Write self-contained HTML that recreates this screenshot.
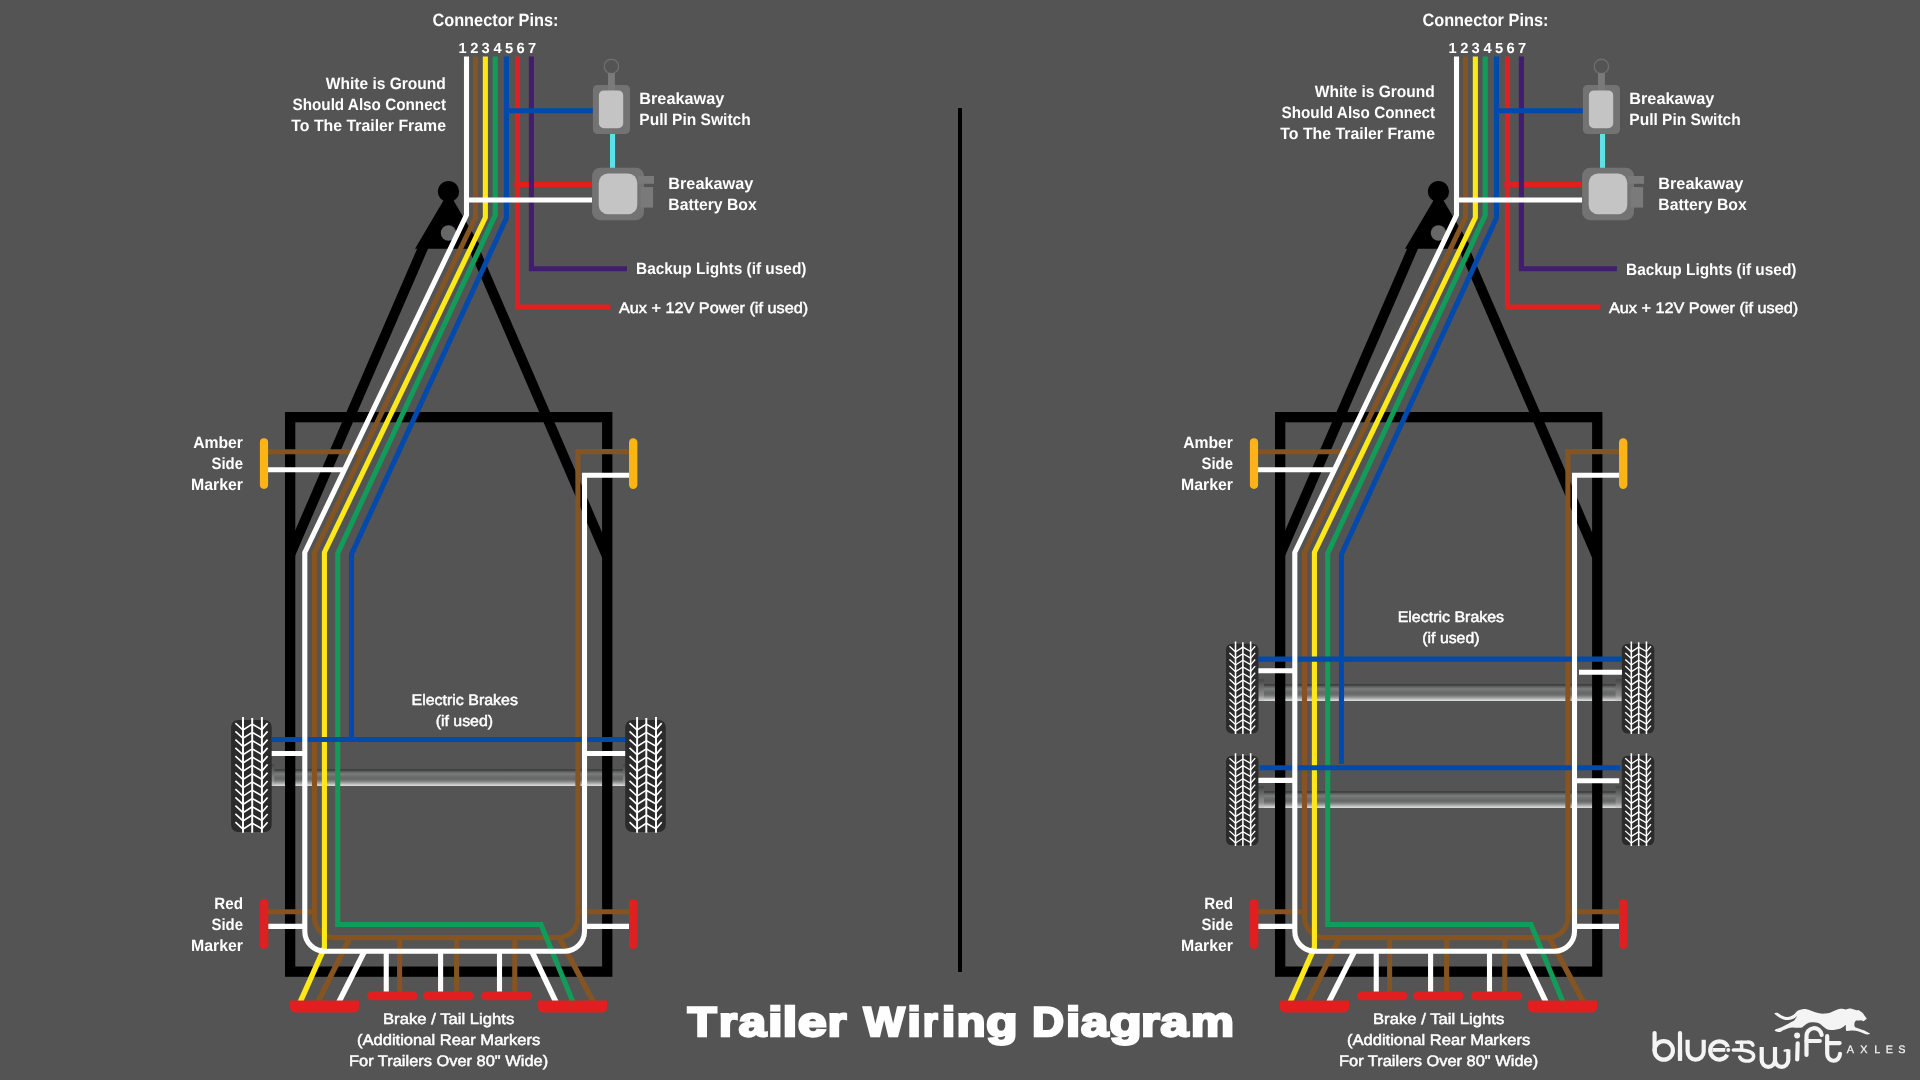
<!DOCTYPE html>
<html>
<head>
<meta charset="utf-8">
<title>Trailer Wiring Diagram</title>
<style>
html,body{margin:0;padding:0;background:#545454;}
body{width:1920px;height:1080px;overflow:hidden;}
svg{display:block;}
text{font-family:"Liberation Sans",sans-serif;fill:#ffffff;text-rendering:geometricPrecision;}
.b{font-weight:bold;}
.sb{font-weight:normal;stroke:#fff;stroke-width:0.5;}
.w{fill:none;stroke-width:5.1;stroke-linecap:butt;stroke-linejoin:miter;}
.white{stroke:#ffffff;}
.brown{stroke:#845422;}
.yellow{stroke:#ffe818;}
.green{stroke:#129c59;}
.blue{stroke:#004aad;}
.red{stroke:#e02020;}
.purple{stroke:#411c70;}
.cyan{stroke:#5ce1e6;}
.blk{fill:none;stroke:#000;}
</style>
</head>
<body>
<svg width="1920" height="1080" viewBox="0 0 1920 1080">
<defs>
  <linearGradient id="axg" x1="0" y1="0" x2="0" y2="1">
    <stop offset="0" stop-color="#3e4141"/>
    <stop offset="0.08" stop-color="#404343"/>
    <stop offset="0.13" stop-color="#585a59"/>
    <stop offset="0.22" stop-color="#6c6e6d"/>
    <stop offset="0.29" stop-color="#7c7e7d"/>
    <stop offset="0.40" stop-color="#6f7170"/>
    <stop offset="0.55" stop-color="#656867"/>
    <stop offset="0.66" stop-color="#6f7271"/>
    <stop offset="0.80" stop-color="#9a9b9b"/>
    <stop offset="0.92" stop-color="#c9c9c9"/>
    <stop offset="1" stop-color="#dedede"/>
  </linearGradient>
  <linearGradient id="capg" x1="0" y1="0" x2="0" y2="1">
    <stop offset="0" stop-color="#434646"/>
    <stop offset="0.2" stop-color="#575959"/>
    <stop offset="0.5" stop-color="#777979"/>
    <stop offset="0.75" stop-color="#8c8d8d"/>
    <stop offset="1" stop-color="#d2d2d2"/>
  </linearGradient>
  <!-- axle: origin at left end, top of tube; use with width via scale not needed: two variants -->
  <g id="axleL">
    <rect x="268" y="769" width="362" height="17" fill="url(#axg)"/>
    <rect x="268" y="764.4" width="6.3" height="21.6" fill="url(#capg)"/>
    <rect x="622.9" y="764.4" width="6.3" height="21.6" fill="url(#capg)"/>
  </g>
  <g id="axleR">
    <rect x="268" y="0" width="363.6" height="17" fill="url(#axg)"/>
    <rect x="268" y="-4.9" width="6" height="21.9" fill="url(#capg)"/>
    <rect x="625.6" y="-4.9" width="6" height="21.9" fill="url(#capg)"/>
  </g>

  <!-- tyre: 40.6 x 112 -->
  <g id="tire">
    <rect x="0" y="0" width="40.6" height="112" rx="7" ry="7" fill="#2b2b2b"/>
    <g fill="none" stroke="#ffffff" stroke-linecap="butt" stroke-linejoin="miter">
      <path stroke-width="1.95" d="M11.9,-3V112.8M21.1,-2V112.8M30.8,-3V112.8"/>
      <g stroke-width="1.65">
      <path id="chev" d="M4.3,3.1L11.9,10L21.1,4.1L30.8,9.6L36.5,3.1"/>
      <use href="#chev" y="8.26"/>
      <use href="#chev" y="16.52"/>
      <use href="#chev" y="24.78"/>
      <use href="#chev" y="33.04"/>
      <use href="#chev" y="41.30"/>
      <use href="#chev" y="49.56"/>
      <use href="#chev" y="57.82"/>
      <use href="#chev" y="66.08"/>
      <use href="#chev" y="74.34"/>
      <use href="#chev" y="82.60"/>
      <use href="#chev" y="90.86"/>
      <use href="#chev" y="99.12"/>
      </g>
    </g>
  </g>

  <!-- black trailer frame, A-frame and hitch -->
  <g id="frame">
    <rect class="blk" x="290.15" y="417.15" width="317.1" height="554.5" stroke-width="10.3"/>
    <path class="blk" stroke-width="10" d="M290,555L424.2,245M607,556.4L472.4,245"/>
    <polygon points="448.5,192 415,248.75 482,248.75" fill="#000"/>
    <circle cx="448.5" cy="191.6" r="10.6" fill="#000"/>
    <circle cx="448.5" cy="233" r="7.75" fill="#676767"/>
  </g>

  <!-- wires shared by both diagrams -->
  <g id="wires">
    <!-- brown -->
    <path class="w brown" d="M264,451.7H361M264,911.75H314.5M577.9,911.75H633M399.6,937.6V992M456.6,937.6V992M514.75,937.6V992"/>
    <path class="w brown" stroke-width="5.5" style="stroke-width:5.5" d="M350,937.6L317.9,1002M559.3,937.6L593.4,1002"/>
    <path class="w brown" d="M475.45,56.6V217.5L314.5,552.5V917.6A20,20 0 0 0 334.5,937.6H557.9A20,20 0 0 0 577.9,917.6V451.6H633"/>
    <!-- yellow -->
    <path class="w yellow" d="M485.35,56.6V217.5L324.4,552.5V949"/>
    <path class="w yellow" style="stroke-width:5.5" d="M324.5,947.5L300.2,1002"/>
    <!-- green -->
    <path class="w green" d="M495.2,56.6V215.3L337.7,553.3V924.5H541L573,1002"/>
    <!-- red -->
    <path class="w red" d="M517.45,56.6V307.1H610.4M514.4,184.55H592.2"/>
    <!-- purple -->
    <path class="w purple" stroke-width="4.7" d="M531.4,56.6V268.8H626.9"/>
    <!-- blue -->
    <path class="w blue" d="M506.45,110.7H593"/>
    <!-- cyan -->
    <path class="w cyan" d="M612.55,134V168"/>
  </g>
  <g id="whitew">
    <path class="w white" d="M466.5,200H592M264,469.8H344M264,926.4H304.8M584.5,926.4H633M386.25,951V992M440.6,951V992M499.5,951V992"/>
    <path class="w white" style="stroke-width:5.5" d="M364.5,951.25L338.9,1002M531.8,951.25L555.9,1002"/>
    <path class="w white" d="M466.5,56.6V215L304.8,552.5V931.25A20,20 0 0 0 324.8,951.25H564.5A20,20 0 0 0 584.5,931.25V475.2H633"/>
  </g>

  <!-- markers, lights, breakaway kit -->
  <g id="parts">
    <rect x="259.9" y="438.2" width="8.2" height="50.7" rx="4.1" fill="#fcb316"/>
    <rect x="629" y="438.2" width="8.4" height="50.7" rx="4.2" fill="#fcb316"/>
    <rect x="259.75" y="899" width="8.6" height="50" rx="4.3" fill="#e02020"/>
    <rect x="629" y="899" width="8.5" height="50" rx="4.25" fill="#e02020"/>
    <path fill="#e02020" d="M291,1000.6H358A1,1 0 0 1 359,1001.6V1007.5A5,5 0 0 1 354,1012.5H295A5,5 0 0 1 290,1007.5V1001.6A1,1 0 0 1 291,1000.6Z"/>
    <path fill="#e02020" d="M539.1,1000.6H606.1A1,1 0 0 1 607.1,1001.6V1007.5A5,5 0 0 1 602.1,1012.5H543.1A5,5 0 0 1 538.1,1007.5V1001.6A1,1 0 0 1 539.1,1000.6Z"/>
    <rect x="367.1" y="991.5" width="50.4" height="8.8" rx="4.4" fill="#e02020"/>
    <rect x="423.1" y="991.5" width="50.65" height="8.8" rx="4.4" fill="#e02020"/>
    <rect x="481" y="991.5" width="51.1" height="8.8" rx="4.4" fill="#e02020"/>
    <!-- pull pin switch -->
    <circle cx="611.4" cy="66.4" r="7.2" fill="none" stroke="#6e6e6e" stroke-width="1.4"/>
    <rect x="592.9" y="84.9" width="37.1" height="49.2" rx="4.6" fill="#737373"/>
    <rect x="608" y="73.1" width="6.9" height="18" fill="#7a7a7a"/>
    <rect x="598.9" y="90.4" width="24.3" height="37.8" rx="5" fill="#c4c4c4"/>
    <!-- battery box -->
    <rect x="592.1" y="167.8" width="51.9" height="52.4" rx="8" fill="#737373"/>
    <rect x="638" y="176" width="16" height="7.8" fill="#7a7a7a"/>
    <rect x="640.7" y="187.1" width="12.4" height="20.5" fill="#7a7a7a"/>
    <rect x="598.7" y="173.6" width="38.6" height="40.6" rx="9.3" fill="#c4c4c4"/>
  </g>
</defs>

<rect x="0" y="0" width="1920" height="1080" fill="#545454"/>
<rect x="958" y="108" width="4" height="864" fill="#000"/>

<!-- ================= LEFT DIAGRAM ================= -->
<g id="left">
  <use href="#axleL"/>
  <use href="#tire" x="231.1" y="720"/>
  <use href="#tire" x="625.2" y="720"/>
  <use href="#frame"/>
  <use href="#wires"/>
  <path class="w blue" d="M506.45,56.6V218L351.5,554.2V739.5M271.7,739.5H625.2"/>
  <use href="#whitew"/>
  <path class="w white" d="M271.7,753.5H304.8M584.5,753.5H625.2"/>
  <use href="#parts"/>
</g>

<!-- ================= RIGHT DIAGRAM ================= -->
<g id="right" transform="translate(990,0)">
  <use href="#axleR" y="684"/>
  <use href="#axleR" y="791"/>
  <use href="#tire" transform="translate(236,643.8) scale(0.8)"/>
  <use href="#tire" transform="translate(236,755.7) scale(0.8)"/>
  <use href="#tire" transform="translate(631.8,643.8) scale(0.8)"/>
  <use href="#tire" transform="translate(631.8,755.7) scale(0.8)"/>
  <use href="#frame"/>
  <use href="#wires"/>
  <path class="w blue" d="M268.4,659.1H632M269.5,767.8H630.5"/>
  <path class="w blue" d="M506.45,56.6V218L351.5,554.2V763.8"/>
  <use href="#whitew"/>
  <path class="w white" d="M268.4,670.7H304.8M589,672.3H632M268.4,780.4H304.8M584.5,780.7H629.2"/>
  <use href="#parts"/>
</g>

<!-- TEXT -->
<g id="text" style="opacity:0.999">
  <g id="tcommon">
    <text class="b" x="432.4" y="26" font-size="17.8" textLength="126" lengthAdjust="spacingAndGlyphs">Connector Pins:</text>
    <g class="b" font-size="14.7" text-anchor="middle">
      <text x="462.7" y="53">1</text><text x="474.45" y="53">2</text><text x="485.6" y="53">3</text><text x="497.55" y="53">4</text><text x="509" y="53">5</text><text x="520.6" y="53">6</text><text x="532.1" y="53">7</text>
    </g>
    <g class="b" font-size="16.4">
      <text x="639.3" y="104" textLength="85" lengthAdjust="spacingAndGlyphs">Breakaway</text>
      <text x="639.3" y="125" textLength="111.4" lengthAdjust="spacingAndGlyphs">Pull Pin Switch</text>
      <text x="668.3" y="189" textLength="85" lengthAdjust="spacingAndGlyphs">Breakaway</text>
      <text x="668.3" y="210" textLength="88.4" lengthAdjust="spacingAndGlyphs">Battery Box</text>
      <text x="193.2" y="448" textLength="49.8" lengthAdjust="spacingAndGlyphs">Amber</text>
      <text x="211.5" y="469" textLength="31.5" lengthAdjust="spacingAndGlyphs">Side</text>
      <text x="191" y="490" textLength="52" lengthAdjust="spacingAndGlyphs">Marker</text>
      <text x="214.3" y="909" textLength="28.7" lengthAdjust="spacingAndGlyphs">Red</text>
      <text x="211.5" y="930" textLength="31.5" lengthAdjust="spacingAndGlyphs">Side</text>
      <text x="191" y="951" textLength="52" lengthAdjust="spacingAndGlyphs">Marker</text>
    </g>
    <g class="sb" font-size="15.2">
      <text x="618.9" y="313" textLength="189.3" lengthAdjust="spacingAndGlyphs">Aux + 12V Power (if used)</text>
      <text x="383" y="1024" textLength="131.3" lengthAdjust="spacingAndGlyphs">Brake / Tail Lights</text>
      <text x="356.9" y="1045" textLength="183.3" lengthAdjust="spacingAndGlyphs">(Additional Rear Markers</text>
      <text x="349" y="1066" textLength="199.1" lengthAdjust="spacingAndGlyphs">For Trailers Over 80" Wide)</text>
    </g>
  </g>
  <use href="#tcommon" x="990"/>
  <!-- left-only -->
  <g class="b" font-size="16.4">
    <text x="325.8" y="89" textLength="120" lengthAdjust="spacingAndGlyphs">White is Ground</text>
    <text x="292.5" y="110" textLength="153.7" lengthAdjust="spacingAndGlyphs">Should Also Connect</text>
    <text x="291.3" y="131" textLength="154.7" lengthAdjust="spacingAndGlyphs">To The Trailer Frame</text>
    <text x="636" y="274" textLength="170.5" lengthAdjust="spacingAndGlyphs">Backup Lights (if used)</text>
  </g>
  <g class="sb" font-size="15.2">
    <text x="411.5" y="705" textLength="106.4" lengthAdjust="spacingAndGlyphs">Electric Brakes</text>
    <text x="435.7" y="726" textLength="57.4" lengthAdjust="spacingAndGlyphs">(if used)</text>
  </g>
  <!-- right-only -->
  <g class="b" font-size="16.4">
    <text x="1314.8" y="97" textLength="120" lengthAdjust="spacingAndGlyphs">White is Ground</text>
    <text x="1281.5" y="118" textLength="153.7" lengthAdjust="spacingAndGlyphs">Should Also Connect</text>
    <text x="1280.3" y="139" textLength="154.7" lengthAdjust="spacingAndGlyphs">To The Trailer Frame</text>
    <text x="1626" y="275" textLength="170.5" lengthAdjust="spacingAndGlyphs">Backup Lights (if used)</text>
  </g>
  <g class="sb" font-size="15.2">
    <text x="1397.7" y="622" textLength="106.4" lengthAdjust="spacingAndGlyphs">Electric Brakes</text>
    <text x="1422.3" y="643" textLength="57.2" lengthAdjust="spacingAndGlyphs">(if used)</text>
  </g>
  <!-- title -->
  <g class="b" font-size="41.3" stroke="#fff" stroke-width="2.6" stroke-linejoin="miter" stroke-miterlimit="2.5">
    <text x="687.67" y="1036" textLength="28.73" lengthAdjust="spacingAndGlyphs">T</text>
    <text x="718.94" y="1036" textLength="18.06" lengthAdjust="spacingAndGlyphs">r</text>
    <text x="738.76" y="1036" textLength="27.33" lengthAdjust="spacingAndGlyphs">a</text>
    <text x="768.24" y="1036" textLength="14.17" lengthAdjust="spacingAndGlyphs">i</text>
    <text x="782.69" y="1036" textLength="14.38" lengthAdjust="spacingAndGlyphs">l</text>
    <text x="797.99" y="1036" textLength="28.56" lengthAdjust="spacingAndGlyphs">e</text>
    <text x="827.85" y="1036" textLength="18.57" lengthAdjust="spacingAndGlyphs">r</text>
    <text x="863.76" y="1036" textLength="40.88" lengthAdjust="spacingAndGlyphs">W</text>
    <text x="907.62" y="1036" textLength="13.26" lengthAdjust="spacingAndGlyphs">i</text>
    <text x="922.92" y="1036" textLength="14.65" lengthAdjust="spacingAndGlyphs">r</text>
    <text x="941.99" y="1036" textLength="13.16" lengthAdjust="spacingAndGlyphs">i</text>
    <text x="956.80" y="1036" textLength="28.71" lengthAdjust="spacingAndGlyphs">n</text>
    <text x="986.20" y="1036" textLength="31.21" lengthAdjust="spacingAndGlyphs">g</text>
    <text x="1032.27" y="1036" textLength="31.68" lengthAdjust="spacingAndGlyphs">D</text>
    <text x="1066.04" y="1036" textLength="14.17" lengthAdjust="spacingAndGlyphs">i</text>
    <text x="1080.97" y="1036" textLength="27.22" lengthAdjust="spacingAndGlyphs">a</text>
    <text x="1109.55" y="1036" textLength="32.06" lengthAdjust="spacingAndGlyphs">g</text>
    <text x="1141.18" y="1036" textLength="18.44" lengthAdjust="spacingAndGlyphs">r</text>
    <text x="1160.64" y="1036" textLength="27.74" lengthAdjust="spacingAndGlyphs">a</text>
    <text x="1191.02" y="1036" textLength="42.87" lengthAdjust="spacingAndGlyphs">m</text>
  </g>
</g>

<!-- LOGO -->
<g id="logo" fill="none" stroke="#f4f4f4" stroke-width="4.2" stroke-linecap="round" stroke-linejoin="round">
  <path fill="#f4f4f4" stroke="none" d="M1774.4,1013.4C1774.4,1012.9 1776.4,1012.5 1777.5,1012.8C1778.6,1013.1 1779.8,1014.6 1781.2,1015.3C1782.7,1016.0 1784.6,1016.8 1786.2,1016.9C1787.9,1017.0 1789.8,1016.5 1791.2,1015.9C1792.7,1015.4 1793.9,1014.3 1795.0,1013.4C1796.1,1012.6 1796.9,1011.3 1798.1,1010.6C1799.4,1009.9 1800.9,1009.5 1802.5,1009.2C1804.1,1009.0 1805.8,1009.0 1807.5,1009.4C1809.2,1009.7 1810.7,1010.6 1812.5,1011.2C1814.3,1011.9 1816.1,1012.7 1818.1,1013.1C1820.1,1013.5 1822.3,1013.7 1824.4,1013.6C1826.5,1013.5 1828.8,1013.1 1830.6,1012.5C1832.5,1011.9 1834.0,1010.9 1835.6,1010.3C1837.3,1009.7 1839.0,1008.9 1840.6,1008.8C1842.3,1008.6 1844.2,1009.4 1845.6,1009.4C1847.1,1009.4 1848.0,1008.6 1849.4,1008.6C1850.7,1008.6 1852.4,1009.1 1853.8,1009.4C1855.1,1009.7 1856.7,1010.2 1857.5,1010.3C1858.3,1010.4 1858.2,1009.8 1858.8,1010.0C1859.3,1010.2 1859.9,1011.0 1860.6,1011.6C1861.4,1012.1 1862.4,1012.7 1863.1,1013.4C1863.9,1014.2 1864.4,1015.4 1865.0,1016.2C1865.6,1017.1 1866.6,1017.8 1866.6,1018.4C1866.6,1019.1 1865.5,1019.5 1865.0,1020.0C1864.5,1020.5 1864.1,1021.2 1863.4,1021.2C1862.8,1021.3 1862.0,1020.4 1861.2,1020.3C1860.5,1020.2 1859.7,1020.5 1858.8,1020.6C1857.8,1020.7 1856.4,1020.4 1855.6,1020.9C1854.9,1021.5 1854.5,1022.8 1854.4,1023.8C1854.3,1024.7 1854.3,1026.1 1855.0,1026.9C1855.7,1027.7 1857.3,1027.9 1858.8,1028.4C1860.2,1029.0 1862.2,1029.6 1863.8,1030.3C1865.3,1031.0 1867.1,1031.9 1868.1,1032.5C1869.2,1033.1 1870.1,1033.4 1870.0,1033.8C1869.9,1034.1 1868.5,1034.4 1867.5,1034.4C1866.5,1034.3 1865.2,1033.9 1863.8,1033.4C1862.3,1033.0 1860.6,1032.0 1858.8,1031.6C1856.9,1031.1 1854.5,1030.7 1852.5,1030.6C1850.5,1030.5 1848.0,1031.1 1846.9,1030.9C1845.8,1030.7 1846.1,1030.4 1845.9,1029.4C1845.7,1028.4 1846.1,1025.4 1845.6,1025.0C1845.2,1024.6 1844.3,1026.2 1843.1,1026.9C1842.0,1027.6 1840.3,1028.5 1838.8,1029.1C1837.2,1029.6 1835.6,1029.9 1833.8,1030.0C1831.9,1030.1 1829.1,1029.8 1827.5,1029.4C1825.9,1029.0 1825.4,1028.3 1824.4,1027.5C1823.3,1026.7 1822.4,1025.5 1821.2,1024.7C1820.1,1023.9 1818.8,1023.2 1817.5,1022.8C1816.2,1022.4 1815.2,1022.2 1813.8,1022.2C1812.3,1022.2 1810.2,1022.3 1808.8,1022.8C1807.3,1023.3 1806.1,1024.2 1805.0,1025.0C1803.9,1025.8 1803.1,1027.0 1801.9,1027.5C1800.6,1028.0 1799.1,1027.8 1797.5,1027.8C1795.9,1027.8 1794.2,1027.4 1792.5,1027.5C1790.8,1027.6 1789.1,1028.0 1787.5,1028.4C1785.9,1028.9 1784.4,1029.7 1783.1,1030.3C1781.9,1030.9 1781.4,1031.8 1780.0,1031.9C1778.6,1032.0 1775.7,1031.4 1775.0,1030.9C1774.3,1030.5 1774.9,1029.8 1775.6,1029.4C1776.4,1028.9 1778.0,1028.7 1779.4,1028.1C1780.7,1027.6 1782.2,1026.7 1783.8,1025.9C1785.3,1025.2 1787.3,1024.2 1788.8,1023.4C1790.2,1022.7 1791.5,1022.2 1792.5,1021.6C1793.5,1020.9 1794.3,1020.3 1795.0,1019.4C1795.7,1018.5 1797.1,1016.4 1796.9,1016.2C1796.7,1016.1 1794.9,1017.9 1793.8,1018.4C1792.6,1019.0 1791.4,1019.4 1790.0,1019.7C1788.6,1019.9 1787.1,1020.1 1785.6,1019.9C1784.2,1019.7 1782.6,1019.0 1781.2,1018.4C1779.9,1017.8 1778.6,1017.1 1777.5,1016.2C1776.4,1015.4 1774.4,1014.0 1774.4,1013.4Z"/>
  <!-- b -->
  <path d="M1654.6,1033.1V1050.4"/>
  <ellipse cx="1663.75" cy="1050.4" rx="9.15" ry="9.25"/>
  <!-- l -->
  <path d="M1680,1033.1V1057"/>
  <path stroke-linecap="butt" d="M1680,1050V1060.9"/>
  <!-- u -->
  <path stroke-linecap="butt" d="M1687.6,1039.8V1051.5A8.05,8.1 0 0 0 1703.7,1051.5V1039.8"/>
  <!-- e -->
  <path stroke-linecap="butt" d="M1727.9,1047.4A9.1,9.1 0 1 0 1727.3,1054.8"/>
  <path stroke-linecap="butt" stroke-width="3.8" d="M1712.5,1049.9H1726"/>
  <circle cx="1728.3" cy="1050" r="3.2" fill="#545454" stroke="none"/>
  <circle cx="1728.3" cy="1050" r="1.95" fill="#f4f4f4" stroke="none"/>
  <!-- -s -->
  <g stroke-width="3.5">
    <path d="M1752.9,1045.1C1752,1042.65 1749.5,1042 1747.1,1042.1L1736.7,1042.2"/>
    <path d="M1741.6,1042.2V1050"/>
    <path d="M1733.3,1050L1741.6,1050.1C1746.5,1050.6 1753.8,1052.1 1753.65,1056.4C1753.5,1060.4 1748.9,1061.3 1745.5,1061C1742.8,1060.7 1740.65,1059.2 1739.7,1057"/>
  </g>
  <!-- w -->
  <path stroke-linecap="butt" d="M1761.7,1047.1V1060A6.65,6.9 0 0 0 1775,1060V1047.1M1775,1060A6.65,6.9 0 0 0 1788.3,1060V1049.4"/>
  <path stroke-width="2.4" d="M1788,1050.3L1784.6,1050.6"/>
  <!-- i -->
  <path d="M1797.7,1043.3L1797.2,1059.5"/>
  <circle cx="1797.1" cy="1035.6" r="3" fill="#f4f4f4" stroke="none"/>
  <!-- f -->
  <path d="M1806.5,1055V1036.7A7.6,7.6 0 0 1 1821.7,1035"/>
  <path d="M1806.5,1041H1819.8"/>
  <!-- t -->
  <path d="M1827.2,1036.2V1053.5A6.4,7.1 0 0 0 1840,1053.8"/>
  <path d="M1827.2,1043.1H1839.6"/>
</g>
<g id="axles" font-size="10.8" font-weight="normal" stroke="#f4f4f4" stroke-width="0.25" text-anchor="middle" style="fill:#f4f4f4;opacity:0.999">
  <text x="1850.3" y="1052.8" style="fill:#f4f4f4">A</text><text x="1863.9" y="1052.8" style="fill:#f4f4f4">X</text><text x="1877.2" y="1052.8" style="fill:#f4f4f4">L</text><text x="1889.4" y="1052.8" style="fill:#f4f4f4">E</text><text x="1901.8" y="1052.8" style="fill:#f4f4f4">S</text>
</g>
</svg>
</body>
</html>
